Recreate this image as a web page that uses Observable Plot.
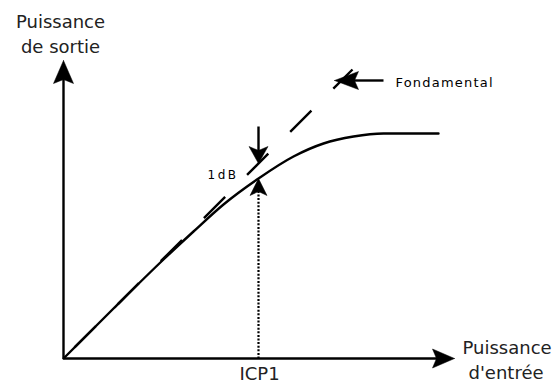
<!DOCTYPE html>
<html><head><meta charset="utf-8">
<script src="https://cdn.jsdelivr.net/npm/d3@7"></script>
<script src="https://cdn.jsdelivr.net/npm/@observablehq/plot@0.6"></script>
<style>html,body{margin:0;padding:0;background:#fff} svg{display:block}</style>
</head><body><div id="chart"></div>
<script>
// Output power curve (input power -> output power), in drawing units
const curveX = [0, 50, 100, 130, 160, 195, 230, 260, 290, 320, 350, 375];
const curveY = [0, 50, 99, 127, 154, 180, 202, 215, 222, 225, 225, 225];
// Fundamental (ideal linear) line
const fundX = [0, 289];
const fundY = [0, 289];
// Arrows: tail -> tip
const arrowTailX = [0, 0, 195, 320, 195];
const arrowTailY = [0, 0, 232, 278, 0];
const arrowTipX  = [0, 391, 195, 271, 195];
const arrowTipY  = [298, 0, 195, 278, 180];
const arrowLen   = [23, 22, 17, 24, 17];
const arrowWid   = [20, 19, 19, 18, 17];
const arrowDotted = [false, false, false, false, true];
// Large labels
const bigText = ["Puissance", "de sortie", "Puissance", "d'entrée", "ICP1"];
const bigX = [-3, -3, 399, 405, 196];
const bigY = [335.8, 310.8, 9.8, -15.2, -16.2];
const bigAnchor = ["middle", "middle", "start", "start", "middle"];
// Small labels
const smallText = ["1dB", "Fondamental"];
const smallX = [144, 332];
const smallY = [183.5, 276];
const smallSize = [12, 13];
const smallSpacing = [2.5, 1.2];

const curve = curveX.map((x, i) => ({x, y: curveY[i]}));
const fund = fundX.map((x, i) => ({x, y: fundY[i]}));

const shafts = [], heads = [];
arrowTailX.forEach((tx, i) => {
  const ty = arrowTailY[i], px = arrowTipX[i], py = arrowTipY[i];
  const L = arrowLen[i], W = arrowWid[i];
  const d = Math.hypot(px - tx, py - ty);
  const ux = (px - tx) / d, uy = (py - ty) / d;
  const nx = -uy, ny = ux;
  const notch = 4;
  shafts.push({id: i, x: tx, y: ty, dotted: arrowDotted[i]});
  shafts.push({id: i, x: px - ux * (L - notch - 1), y: py - uy * (L - notch - 1), dotted: arrowDotted[i]});
  heads.push({id: i, x: px, y: py});
  heads.push({id: i, x: px - ux * L + nx * W / 2, y: py - uy * L + ny * W / 2});
  heads.push({id: i, x: px - ux * (L - notch), y: py - uy * (L - notch)});
  heads.push({id: i, x: px - ux * L - nx * W / 2, y: py - uy * L - ny * W / 2});
  heads.push({id: i, x: px, y: py});
});

const big = bigText.map((t, i) => ({t, x: bigX[i], y: bigY[i], a: bigAnchor[i]}));
const small = smallText.map((t, i) => ({t, x: smallX[i], y: smallY[i], s: smallSize[i], ls: smallSpacing[i]}));

const plot = Plot.plot({
  width: 557, height: 385,
  margin: 0,
  x: {domain: [-63, 494], axis: null},
  y: {domain: [-27, 358], axis: null},
  style: {background: "#fff", color: "#000"},
  marks: [
    Plot.line(fund, {x: "x", y: "y", stroke: "#000", strokeWidth: 2.4,
      strokeDasharray: "30,31", strokeDashoffset: 45.4, strokeLinecap: "butt"}),
    Plot.line(curve, {x: "x", y: "y", curve: "monotone-x", stroke: "#000", strokeWidth: 2.4}),
    Plot.line(shafts.filter(d => !d.dotted), {x: "x", y: "y", z: "id", stroke: "#000", strokeWidth: 2.4, strokeLinecap: "butt"}),
    Plot.line(shafts.filter(d => d.dotted), {x: "x", y: "y", z: "id", stroke: "#000", strokeWidth: 2.2, strokeDasharray: "2,1.6", strokeLinecap: "butt"}),
    Plot.line(heads, {x: "x", y: "y", z: "id", fill: "#000", stroke: "#000", strokeWidth: 0.5}),
    Plot.text(big.filter(d => d.a === "middle"), {x: "x", y: "y", text: "t", textAnchor: "middle",
      fontSize: 18, fontFamily: "DejaVu Sans", fill: "#222"}),
    Plot.text(big.filter(d => d.a === "start"), {x: "x", y: "y", text: "t", textAnchor: "start",
      fontSize: 18, fontFamily: "DejaVu Sans", fill: "#222"}),
    Plot.text(small, {x: "x", y: "y", text: "t", textAnchor: "start", fontSize: d => d.s,
      fontFamily: "DejaVu Sans", fill: "#000"})
  ]
});
d3.select(plot).selectAll("text").each(function() {
  const k = smallText.indexOf(this.textContent);
  if (k >= 0) this.style.letterSpacing = smallSpacing[k] + "px";
});
document.getElementById("chart").appendChild(plot);
</script>
</body></html>
